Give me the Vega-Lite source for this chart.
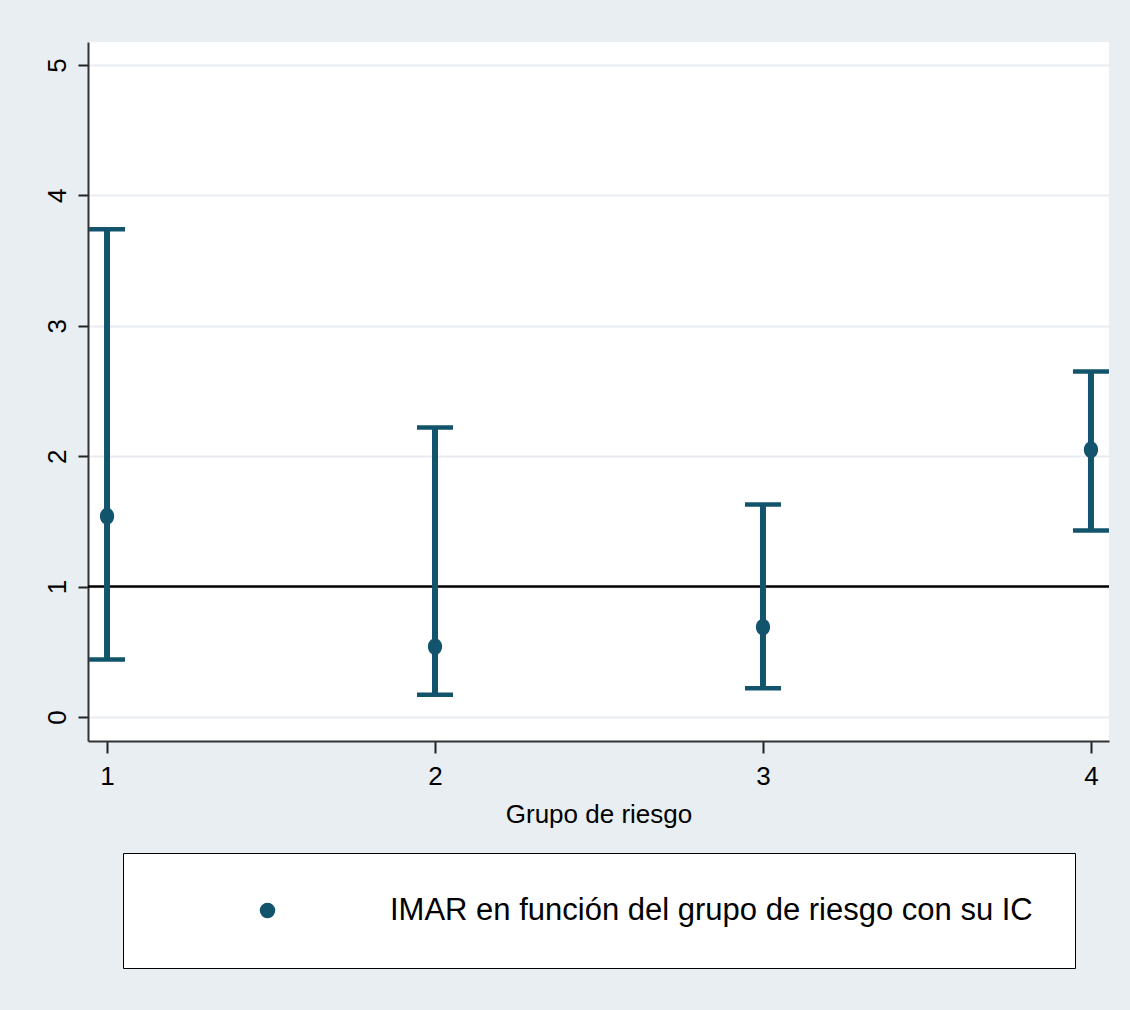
{
  "$schema": "https://vega.github.io/schema/vega-lite/v6.json",
  "width": 1021,
  "height": 699,
  "autosize": {"type": "none"},
  "padding": {"left": 88, "top": 42, "right": 21, "bottom": 269},
  "background": "#e8eef1",
  "data": {
    "values": [
      {"grupo": 1, "imar": 1.54, "lo": 0.44, "hi": 3.74},
      {"grupo": 2, "imar": 0.54, "lo": 0.17, "hi": 2.22},
      {"grupo": 3, "imar": 0.69, "lo": 0.22, "hi": 1.63},
      {"grupo": 4, "imar": 2.05, "lo": 1.43, "hi": 2.65}
    ]
  },
  "layer": [
    {
      "data": {"values": [{"ref": 1}]},
      "mark": {"type": "rule", "color": "black", "strokeWidth": 2.5},
      "encoding": {
        "y": {"field": "ref", "type": "quantitative"}
      }
    },
    {
      "mark": {"type": "rule", "color": "#13546d", "strokeWidth": 6},
      "encoding": {
        "x": {
          "field": "grupo",
          "type": "quantitative",
          "title": "Grupo de riesgo",
          "scale": {"domain": [0.942, 4.055], "nice": false, "zero": false},
          "axis": {
            "values": [1, 2, 3, 4],
            "format": "d",
            "grid": false,
            "tickSize": 12,
            "labelPadding": 10,
            "titlePadding": 12
          }
        },
        "y": {
          "field": "lo",
          "type": "quantitative",
          "title": null,
          "scale": {"domain": [-0.184, 5.176], "nice": false, "zero": false},
          "axis": {
            "values": [0, 1, 2, 3, 4, 5],
            "format": "d",
            "labelAngle": -90,
            "labelAlign": "center",
            "labelBaseline": "bottom",
            "tickSize": 10,
            "labelPadding": 8
          }
        },
        "y2": {"field": "hi"}
      }
    },
    {
      "mark": {"type": "tick", "orient": "horizontal", "color": "#13546d", "opacity": 1, "size": 36, "thickness": 4.5},
      "encoding": {
        "x": {"field": "grupo", "type": "quantitative"},
        "y": {"field": "lo", "type": "quantitative"}
      }
    },
    {
      "mark": {"type": "tick", "orient": "horizontal", "color": "#13546d", "opacity": 1, "size": 36, "thickness": 4.5},
      "encoding": {
        "x": {"field": "grupo", "type": "quantitative"},
        "y": {"field": "hi", "type": "quantitative"}
      }
    },
    {
      "mark": {
        "type": "point",
        "filled": true,
        "opacity": 1,
        "size": 280,
        "shape": "M0,-1A0.85,1,0,1,1,0,1A0.85,1,0,1,1,0,-1Z"
      },
      "encoding": {
        "x": {"field": "grupo", "type": "quantitative"},
        "y": {"field": "imar", "type": "quantitative"},
        "color": {
          "datum": "IMAR en función del grupo de riesgo con su IC",
          "type": "nominal",
          "scale": {"range": ["#13546d"]},
          "legend": {
            "title": null,
            "orient": "none",
            "legendX": 35,
            "legendY": 811,
            "symbolType": "circle",
            "symbolSize": 240,
            "symbolOffset": 87,
            "labelOffset": 107,
            "labelLimit": 1000,
            "encode": {
              "legend": {"update": {"strokeWidth": {"value": 2.5}}},
              "symbols": {"update": {"fill": {"value": "#1d4b7a"}, "opacity": {"value": 1}}}
            }
          }
        }
      }
    }
  ],
  "config": {
    "view": {"stroke": null, "fill": "white"},
    "axis": {
      "labelFont": "Liberation Sans",
      "titleFont": "Liberation Sans",
      "labelFontSize": 26,
      "titleFontSize": 26,
      "titleFontWeight": "normal",
      "labelColor": "black",
      "titleColor": "black",
      "domainColor": "#333333",
      "domainWidth": 2,
      "tickColor": "#222222",
      "tickWidth": 2,
      "gridColor": "#e8ecf1",
      "gridWidth": 2
    },
    "legend": {
      "padding": 42,
      "strokeColor": "black",
      "fillColor": "white",
      "labelFont": "Liberation Sans",
      "labelFontSize": 31,
      "labelColor": "black",
      "symbolStrokeWidth": 0
    }
  }
}
